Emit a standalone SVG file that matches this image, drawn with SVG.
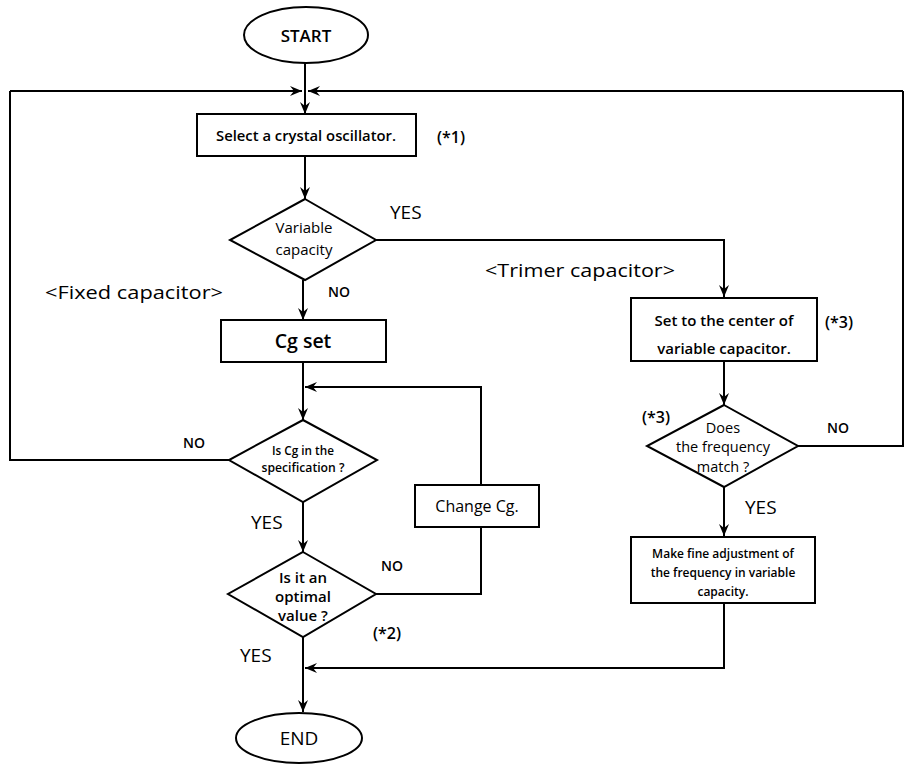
<svg xmlns="http://www.w3.org/2000/svg" width="905" height="764" viewBox="0 0 905 764">
<defs>
<marker id="ah" viewBox="0 0 12 10" refX="12" refY="5" markerWidth="12" markerHeight="10" markerUnits="userSpaceOnUse" orient="auto">
<path d="M0,0 L12,5 L0,10 L4,5 z" fill="#000"/>
</marker>
<style>
.s{fill:#fff;stroke:#000;stroke-width:2}
.c{fill:none;stroke:#000;stroke-width:2}
.a{marker-end:url(#ah)}
text{font-family:"Open Sans","Noto Sans","Liberation Sans",sans-serif;fill:#000}
.m{text-anchor:middle}
.b{font-weight:600}
</style>
</defs>
<g id="connectors">
<path class="c a" d="M305,63 V114"/>
<path class="c a" d="M10,91 H302"/>
<path class="c a" d="M903,91 H308"/>
<path class="c a" d="M305,156 V199"/>
<path class="c a" d="M303,280 V320"/>
<path class="c a" d="M376,240 H724 V297"/>
<path class="c a" d="M303,362 V420"/>
<path class="c a" d="M481,485 V387 H305"/>
<path class="c" d="M229,460 H10 V91"/>
<path class="c a" d="M303,502 V552"/>
<path class="c" d="M376,594 H481 V527"/>
<path class="c a" d="M303,637 V712"/>
<path class="c a" d="M724,361 V405"/>
<path class="c" d="M798,446 H903 V91"/>
<path class="c a" d="M724,487 V536"/>
<path class="c a" d="M724,603 V668 H305"/>
</g>
<g id="start">
<ellipse class="s" cx="306" cy="35" rx="62" ry="28"/>
<text class="m b" x="306" y="42" font-size="17">START</text>
</g>
<g id="select">
<rect class="s" x="197" y="114" width="219" height="42"/>
<text class="m b" x="306" y="141" font-size="15" textLength="180" lengthAdjust="spacingAndGlyphs">Select a crystal oscillator.</text>
<text class="b" x="437" y="143" font-size="16">(*1)</text>
</g>
<g id="variable">
<polygon class="s" points="305,199 376,240 305,280 230,240"/>
<text class="m" x="304" y="233" font-size="15">Variable</text>
<text class="m" x="304" y="255" font-size="15">capacity</text>
<text x="390" y="219" font-size="19">YES</text>
<text class="b" x="328" y="297" font-size="14">NO</text>
</g>
<text x="45" y="299" font-size="19" textLength="178" lengthAdjust="spacingAndGlyphs">&lt;Fixed capacitor&gt;</text>
<text x="485" y="277" font-size="19" textLength="190" lengthAdjust="spacingAndGlyphs">&lt;Trimer capacitor&gt;</text>
<g id="cgset">
<rect class="s" x="221" y="320" width="165" height="42"/>
<text class="m b" x="303" y="348" font-size="19.5">Cg set</text>
</g>
<g id="spec">
<polygon class="s" points="303,420 377,460 303,502 229,460"/>
<text class="m b" x="303" y="455" font-size="12" textLength="62" lengthAdjust="spacingAndGlyphs">Is Cg in the</text>
<text class="m b" x="303" y="472" font-size="12" textLength="83" lengthAdjust="spacingAndGlyphs">specification ?</text>
<text class="b" x="183" y="448" font-size="14">NO</text>
<text x="251" y="529" font-size="19">YES</text>
</g>
<g id="changecg">
<rect class="s" x="415" y="485" width="124" height="42"/>
<text class="m" x="477" y="512" font-size="16">Change Cg.</text>
</g>
<g id="optimal">
<polygon class="s" points="303,552 376,594 303,637 228,594"/>
<text class="m b" x="303" y="583" font-size="15">Is it an</text>
<text class="m b" x="303" y="602" font-size="15">optimal</text>
<text class="m b" x="303" y="621" font-size="15">value ?</text>
<text class="b" x="381" y="571" font-size="14">NO</text>
<text class="b" x="373" y="639" font-size="16">(*2)</text>
<text x="240" y="662" font-size="19">YES</text>
</g>
<g id="end">
<ellipse class="s" cx="299" cy="738" rx="63" ry="25"/>
<text class="m" x="299" y="745" font-size="19">END</text>
</g>
<g id="settocenter">
<rect class="s" x="631" y="298" width="186" height="63"/>
<text class="m b" x="724" y="326" font-size="15">Set to the center of</text>
<text class="m b" x="724" y="354" font-size="15">variable capacitor.</text>
<text class="b" x="825" y="328" font-size="16">(*3)</text>
</g>
<g id="match">
<polygon class="s" points="724,405 798,446 724,487 647,446"/>
<text class="m" x="723" y="433" font-size="14.5">Does</text>
<text class="m" x="723" y="452" font-size="14.5">the frequency</text>
<text class="m" x="723" y="472" font-size="14.5">match ?</text>
<text class="b" x="642" y="423" font-size="16">(*3)</text>
<text class="b" x="827" y="433" font-size="14">NO</text>
<text x="745" y="514" font-size="19">YES</text>
</g>
<g id="finetune">
<rect class="s" x="631" y="537" width="184" height="66"/>
<text class="m b" x="723" y="558" font-size="12">Make fine adjustment of</text>
<text class="m b" x="723" y="577" font-size="12">the frequency in variable</text>
<text class="m b" x="723" y="596" font-size="12">capacity.</text>
</g>
</svg>
